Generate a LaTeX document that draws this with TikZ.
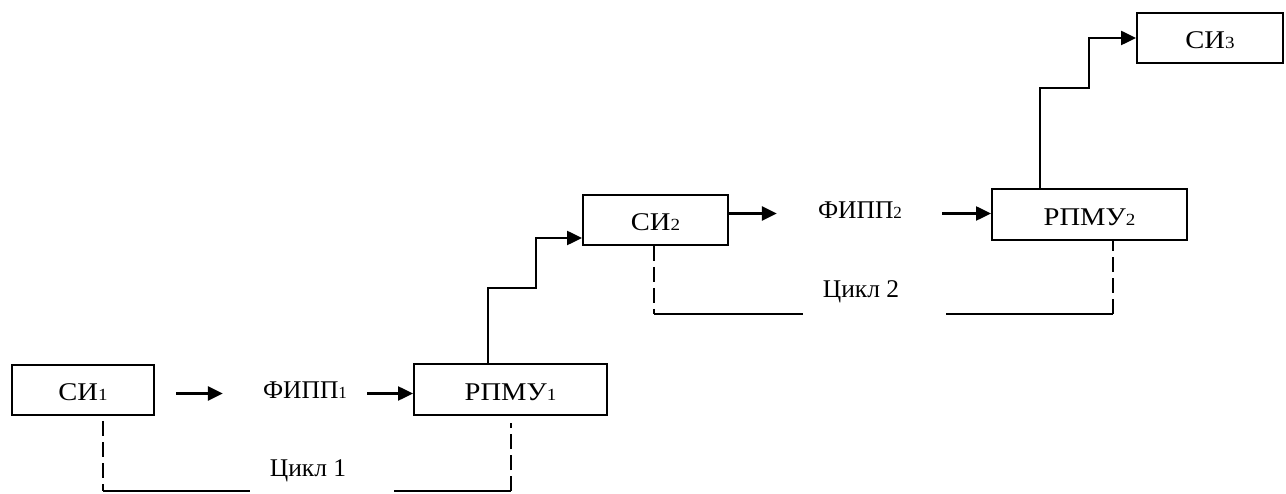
\documentclass[tikz,border=0pt]{standalone}
\usepackage{fontspec}
\setmainfont{Liberation Serif}
\newfontfamily\boxfont{Liberation Serif}[FakeStretch=1.12]
\usetikzlibrary{arrows.meta}
\newcommand{\ix}[1]{{\fontsize{17}{20}\selectfont #1}}
\begin{document}
\begin{tikzpicture}[x=1pt, y=-1pt, font=\fontsize{25.5}{30}\selectfont,
    box/.style = {draw, line width=2pt, minimum width=145pt, minimum height=50pt, inner sep=0pt, text height=22pt, text depth=0pt, font=\boxfont\fontsize{25.5}{30}\selectfont},
    lbl/.style = {inner sep=0pt, text height=17pt, text depth=6pt},
    arr/.style = {line width=2.5pt, -{Triangle[length=15pt, width=14pt]}},
    link/.style = {line width=2pt},
    dsh/.style = {line width=2pt, dash pattern=on 15pt off 6pt}]
    \useasboundingbox (0,0) rectangle (1286,494);
    \node[box, minimum width=142pt] (si1) at (83,390) {СИ\ix{1}};
    \node[lbl] (fipp1) at (305,393.5) {ФИПП\ix{1}};
    \node[box, minimum width=193pt, minimum height=51pt] (rpmu1) at (510.5,389.5) {РПМУ\ix{1}};
    \node[box] (si2) at (655.5,220) {СИ\ix{2}};
    \node[lbl] (fipp2) at (860,213.5) {ФИПП\ix{2}};
    \node[box, minimum width=195pt, minimum height=51pt] (rpmu2) at (1089.5,214.5) {РПМУ\ix{2}};
    \node[box, minimum width=146pt] (si3) at (1210,38) {СИ\ix{3}};
    \node[lbl] (cyc1) at (308,470.5) {Цикл 1};
    \node[lbl] (cyc2) at (861,292.5) {Цикл 2};
    % forward arrows
    \draw[arr, shorten <=21pt, shorten >=40pt] (si1.east |- fipp1.west) -- (fipp1.west);
    \draw[arr, shorten <=20pt] (fipp1.east) -- (fipp1.east -| rpmu1.west);
    \draw[arr, shorten >=41pt] (si2.east |- fipp2.west) -- (fipp2.west);
    \draw[arr, shorten <=40pt] (fipp2.east) -- (fipp2.east -| rpmu2.west);
    % steps up
    \coordinate (b1) at (536,288);
    \coordinate (b2) at (1089,88);
    \draw[arr] ([xshift=-22.5pt]rpmu1.north) |- (b1) |- ([yshift=-18pt]si2.west);
    \draw[arr] ([xshift=-49.5pt]rpmu2.north) |- (b2) |- (si3.west);
    % cycle 1
    \coordinate (c1) at (103,491);
    \draw[dsh] ([xshift=20pt, yshift=-5pt]si1.south) -- (c1);
    \draw[link, shorten >=20pt] (c1) -- (c1 -| cyc1.west);
    \draw[link, shorten <=48pt] (c1 -| cyc1.east) -- (c1 -| rpmu1.south);
    \draw[dsh] (c1 -| rpmu1.south) -- ([yshift=-7pt]rpmu1.south);
    % cycle 2
    \coordinate (c2) at (654,314);
    \coordinate (d2) at ([xshift=23.5pt]rpmu2.south);
    \draw[dsh] ([xshift=-1.5pt]si2.south) -- (c2);
    \draw[link, shorten >=20pt] (c2) -- (c2 -| cyc2.west);
    \draw[link, shorten <=47pt] (c2 -| cyc2.east) -- (c2 -| d2);
    \draw[dsh] (c2 -| d2) -- (d2);
\end{tikzpicture}
\end{document}
